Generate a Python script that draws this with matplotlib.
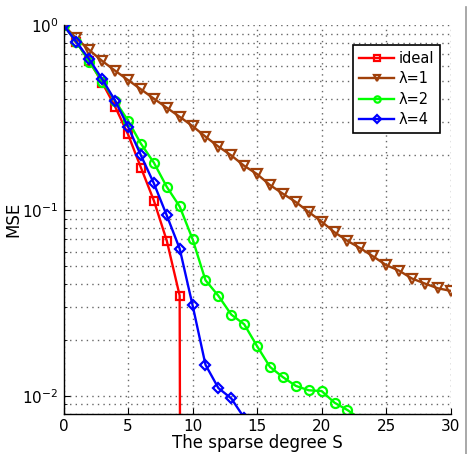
import numpy as np
import matplotlib
matplotlib.use('Agg')
import matplotlib.pyplot as plt
from matplotlib.ticker import LogLocator, NullFormatter

# data
S = list(range(0, 31))

mse_ideal = [1.0, 0.81, 0.64, 0.489, 0.363, 0.257, 0.170, 0.113, 0.0687, 0.0347, 1e-30]
mse_l1 = [1.0, 0.848, 0.733, 0.64, 0.567, 0.505, 0.45, 0.401, 0.358, 0.32, 0.285,
          0.25, 0.221, 0.198, 0.174, 0.157, 0.137, 0.123, 0.111, 0.098, 0.087,
          0.0762, 0.0685, 0.0625, 0.0564, 0.0507, 0.0473, 0.0429, 0.0403, 0.038, 0.0368]
mse_l2 = [1.0, 0.81, 0.634, 0.495, 0.39, 0.305, 0.229, 0.181, 0.134, 0.105, 0.070,
          0.0420, 0.0346, 0.0274, 0.0243, 0.0185, 0.0143, 0.0126, 0.0113, 0.0107, 0.0106,
          0.00917, 0.00837, 0.0075]
mse_l4 = [1.0, 0.81, 0.653, 0.51, 0.391, 0.283, 0.198, 0.14, 0.094, 0.0622, 0.0308,
          0.0147, 0.011, 0.00967, 0.0076]

labels = ['ideal', 'λ=1', 'λ=2', 'λ=4']
colors = ['#ff0000', '#a0400a', '#00ff00', '#0000ff']
markers = ['s', 'v', 'o', 'D']

fig = plt.figure(figsize=(4.68, 4.54), dpi=100)
ax = fig.add_axes([0.1357, 0.0888, 0.8273, 0.856])

series = [mse_ideal, mse_l1, mse_l2, mse_l4]
sizes = [5.5, 7, 6.5, 5.5]
for ys, lab, c, m, ms in zip(series, labels, colors, markers, sizes):
    ax.semilogy(S[:len(ys)], ys, color=c, marker=m, markersize=ms,
                markerfacecolor='none', markeredgecolor=c, markeredgewidth=1.6,
                linewidth=1.7, label=lab)

ax.set_xlim(0, 30)
ax.set_ylim(0.008, 1)
ax.set_xticks([0, 5, 10, 15, 20, 25, 30])
ax.yaxis.set_major_locator(LogLocator(base=10, numticks=10))
ax.yaxis.set_minor_locator(LogLocator(base=10, subs=np.arange(2, 10), numticks=20))
ax.yaxis.set_minor_formatter(NullFormatter())

gstyle = dict(linestyle=(0, (1, 3)), color='#666666', linewidth=1.0)
ax.grid(True, which='major', **gstyle)
ax.grid(True, which='minor', axis='y', **gstyle)

for side in ['top', 'right']:
    ax.spines[side].set_visible(False)
ax.spines['left'].set_linewidth(1.0)
ax.spines['bottom'].set_linewidth(1.0)
ax.tick_params(which='both', direction='in', labelsize=11)
ax.tick_params(which='major', length=4)
ax.tick_params(which='minor', length=2)

ax.set_xlabel('The sparse degree S', fontsize=12, labelpad=0)
ax.set_ylabel('MSE', fontsize=12)
ax.yaxis.set_label_coords(-0.107, 0.5)

leg = ax.legend(loc='upper right', bbox_to_anchor=(0.972, 0.949), borderaxespad=0,
                fontsize=10.5, fancybox=False, edgecolor='black', framealpha=1,
                handlelength=2.4, handletextpad=0.3, borderpad=0.4,
                labelspacing=0.38, markerscale=0.7)
leg.get_frame().set_linewidth(1.2)

fig.add_artist(plt.Line2D([0.995, 0.995], [0, 0.985], transform=fig.transFigure,
                          color='#999999', linewidth=1.2))

fig.savefig('out.png', dpi=100)
